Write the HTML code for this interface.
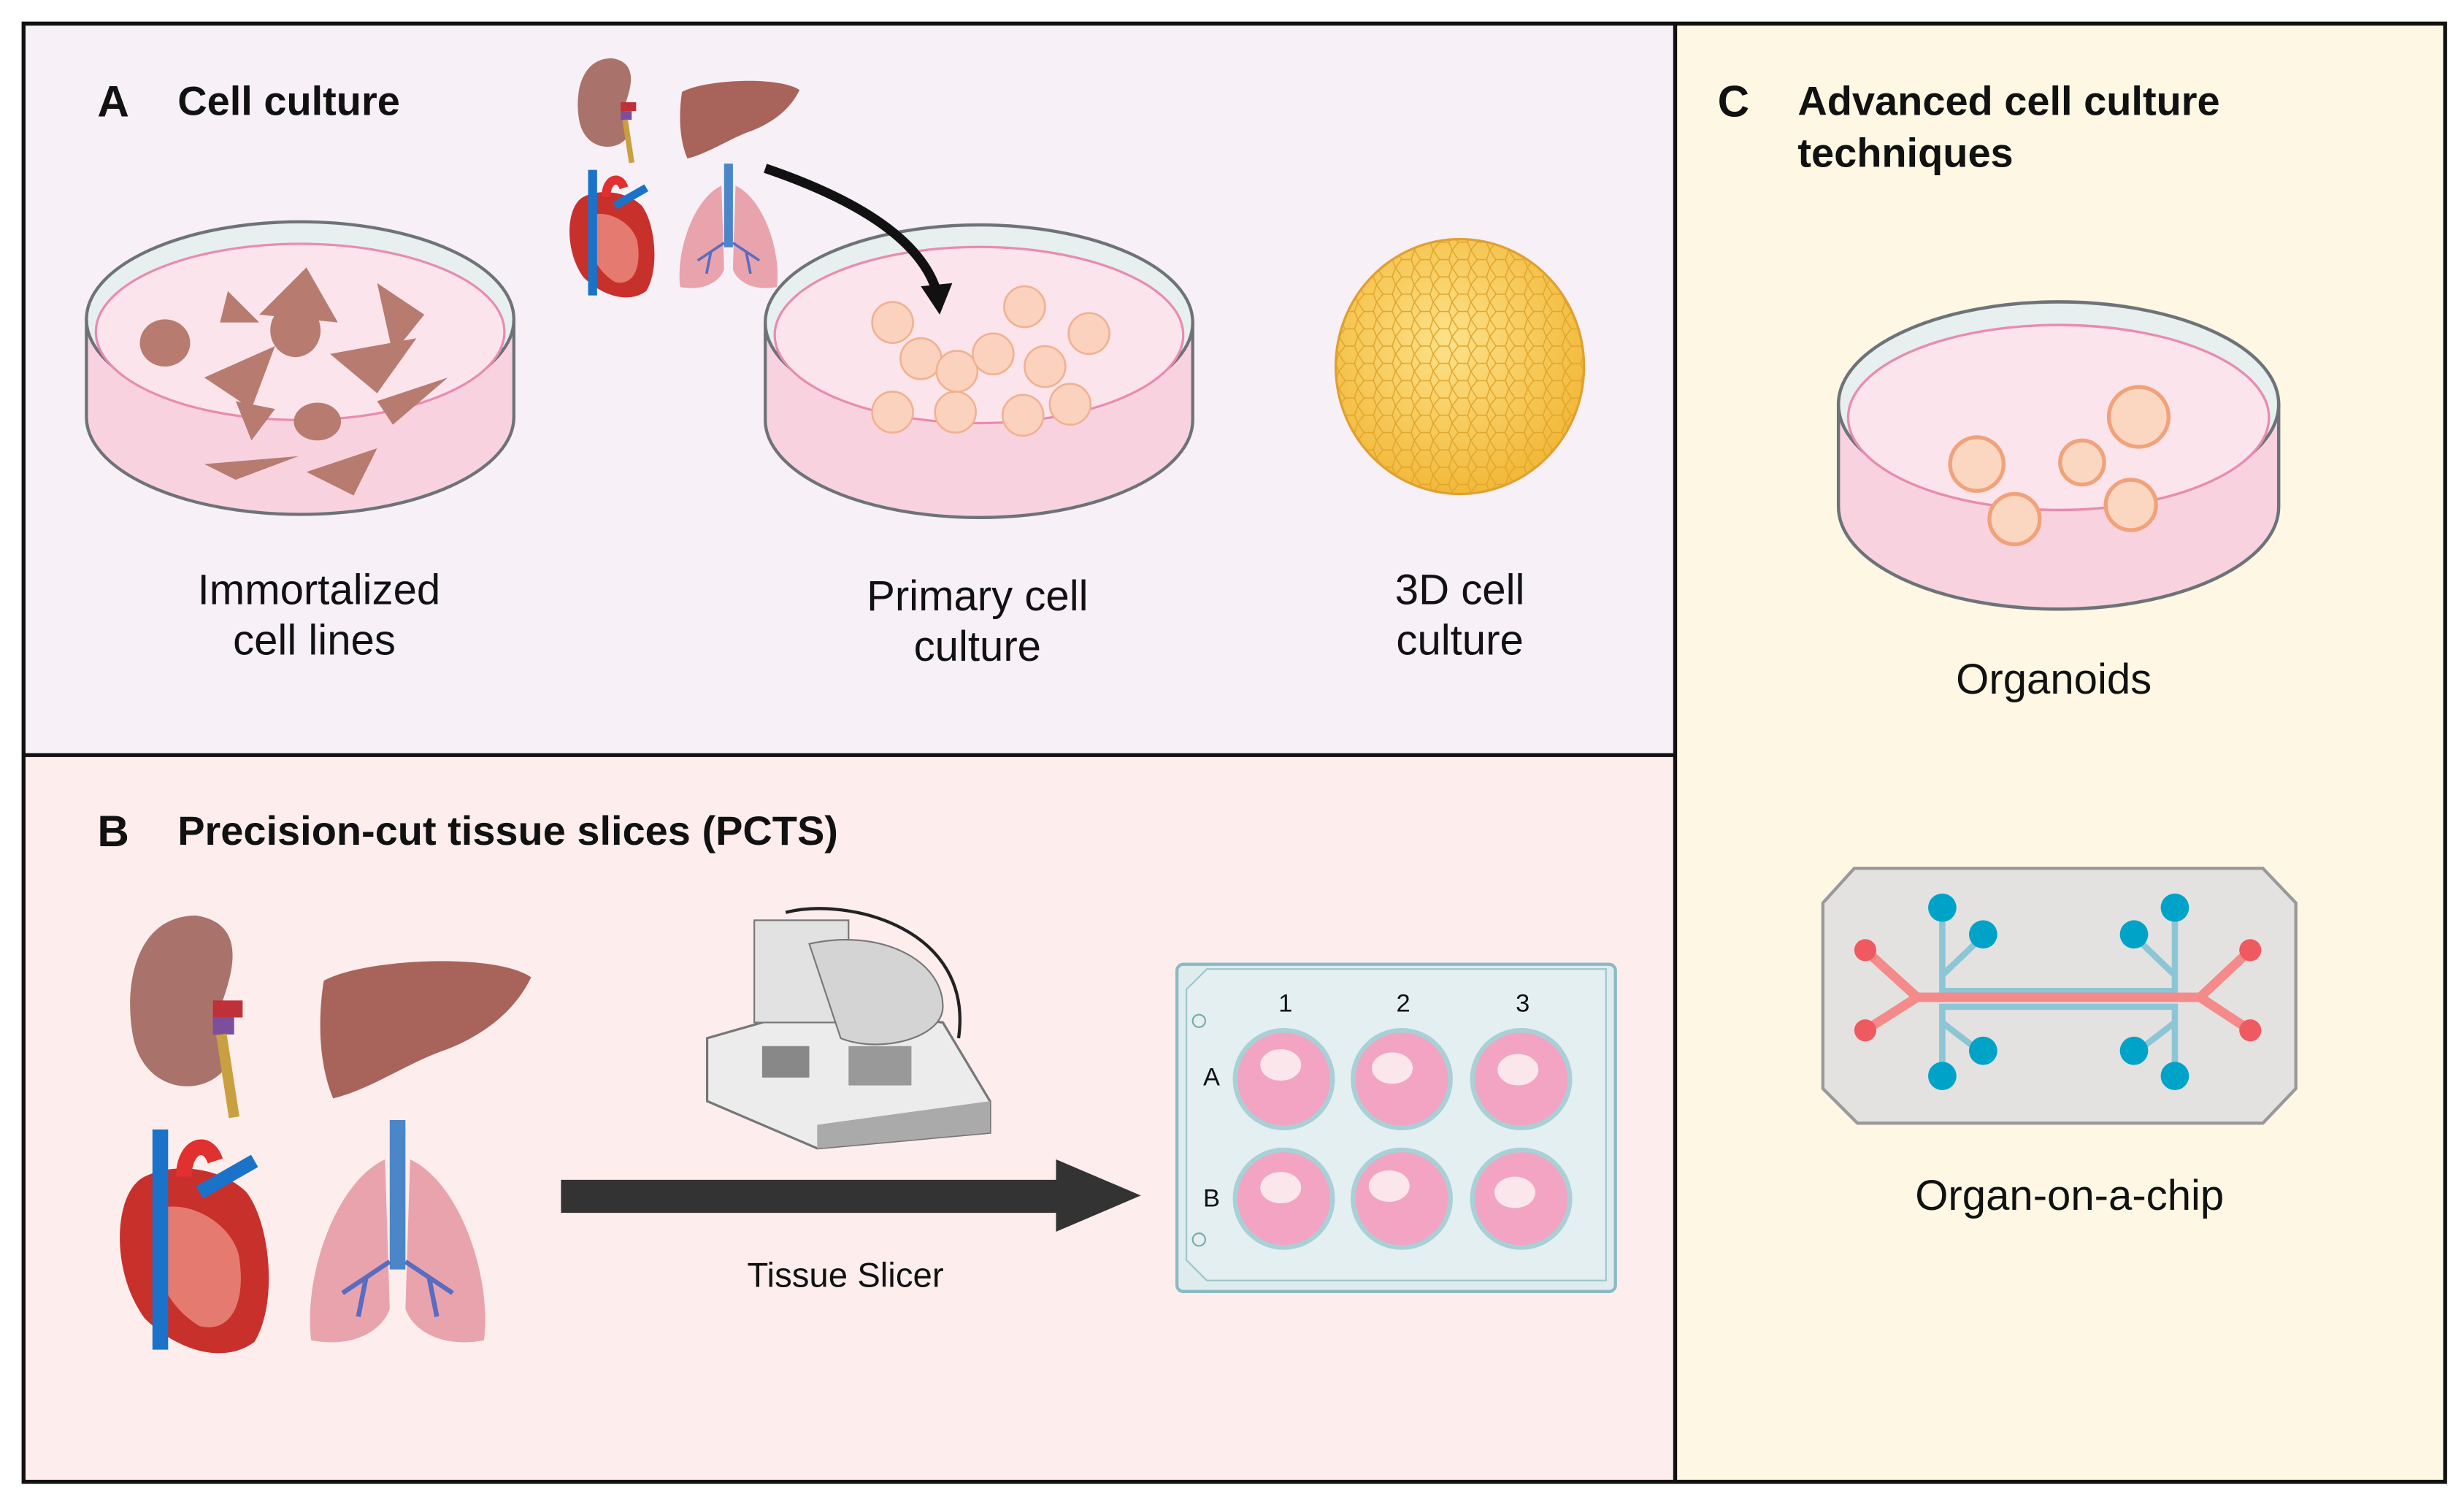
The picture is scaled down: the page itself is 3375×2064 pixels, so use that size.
<!DOCTYPE html>
<html><head><meta charset="utf-8"><style>
html,body{margin:0;padding:0;background:#fff}
svg{display:block}
text{font-family:"Liberation Sans",sans-serif;fill:#111}
.b{font-weight:bold}
</style></head><body>
<svg width="3375" height="2064" viewBox="0 0 1568 958" preserveAspectRatio="none" xmlns="http://www.w3.org/2000/svg">
<defs>
<radialGradient id="sph" cx="0.45" cy="0.4" r="0.6"><stop offset="0" stop-color="#fde28a"/><stop offset="1" stop-color="#f2b93a"/></radialGradient>
<pattern id="cells" width="12" height="11" patternUnits="userSpaceOnUse"><path d="M0 5 L4 0 L10 0 L12 5 L10 11 L4 11 Z" fill="none" stroke="#e0a52c" stroke-width="0.7"/></pattern>
<g id="dish">
<path d="M-136 0 L-136 62 A136 62 0 0 0 136 62 L136 0 Z" fill="#f8d3df" stroke="#6d7378" stroke-width="2"/>
<ellipse cx="0" cy="0" rx="136" ry="62" fill="#e8efef" stroke="#6d7378" stroke-width="2"/>
<ellipse cx="0" cy="8" rx="130" ry="56" fill="#fbe4ec" stroke="#e98bb0" stroke-width="1.5"/>
</g>
<g id="kid"><path d="M22 0 C-5 0 -12 30 -8 55 C-4 82 22 86 34 74 C42 62 30 52 34 42 C38 30 48 4 22 0 Z" fill="#a9726a"/><rect x="30" y="40" width="14" height="8" fill="#c0303a"/><rect x="30" y="48" width="10" height="8" fill="#7b4f9c"/><path d="M34 56 L40 95" stroke="#c9a040" stroke-width="5"/></g>
<g id="liv"><path d="M0 10 C20 -2 90 -6 110 8 C100 30 80 42 65 48 C45 55 25 70 5 75 C-3 55 -3 30 0 10 Z" fill="#a8635a"/></g>
<g id="heart"><path d="M20 30 C0 40 -2 90 20 120 C40 140 70 150 90 135 C105 110 100 60 85 40 C70 25 40 20 20 30 Z" fill="#c8302c"/><path d="M30 50 C20 80 30 110 55 125 C75 130 85 110 80 80 C75 60 50 45 30 50 Z" fill="#e57a70"/><rect x="25" y="0" width="10" height="140" fill="#1a73c8"/><path d="M45 30 C45 10 60 5 65 20" stroke="#e03030" stroke-width="10" fill="none"/><path d="M55 40 L90 20" stroke="#1a73c8" stroke-width="9"/></g>
<g id="lung"><rect x="55" y="0" width="10" height="95" fill="#4a86c8"/><path d="M52 25 C20 40 0 100 5 140 C30 145 50 135 55 120 Z" fill="#e9a3ad"/><path d="M68 25 C100 40 120 100 115 140 C90 145 70 135 65 120 Z" fill="#e9a3ad"/><path d="M55 90 L25 110 M40 100 L35 125 M65 90 L95 110 M80 100 L85 125" stroke="#5a6cc0" stroke-width="3" fill="none"/></g>
</defs>
<rect width="1568" height="958" fill="#fff"/>
<rect x="15" y="15" width="1051" height="465" fill="#f7f0f7"/>
<rect x="15" y="480" width="1051" height="462" fill="#fdeeed"/>
<rect x="1066" y="15" width="490" height="927" fill="#fdf7e3"/>
<rect x="15" y="15" width="1541" height="927" fill="none" stroke="#111" stroke-width="2.5"/>
<line x1="1066" y1="15" x2="1066" y2="942" stroke="#111" stroke-width="2.5"/>
<line x1="15" y1="480" x2="1066" y2="480" stroke="#111" stroke-width="2.5"/>

<text x="62" y="74" font-size="28" class="b">A</text>
<text x="113" y="73" font-size="26" class="b">Cell culture</text>
<text x="62" y="538" font-size="28" class="b">B</text>
<text x="113" y="537" font-size="26" class="b">Precision-cut tissue slices (PCTS)</text>
<text x="1093" y="74" font-size="28" class="b">C</text>
<text x="1144" y="73" font-size="26" class="b">Advanced cell culture</text>
<text x="1144" y="106" font-size="26" class="b">techniques</text>

<!-- Panel A -->
<use href="#dish" x="191" y="203"/>
<g fill="#b77b70">
<ellipse cx="105" cy="218" rx="16" ry="15"/><ellipse cx="188" cy="210" rx="16" ry="17"/><path d="M130 240 L175 220 L160 260 Z"/><path d="M165 200 L195 170 L215 205 Z"/><path d="M210 225 L265 215 L240 250 Z"/><path d="M240 180 L270 200 L250 225 Z"/><path d="M145 185 L165 205 L140 205 Z"/><path d="M150 255 L175 260 L160 280 Z"/><ellipse cx="202" cy="268" rx="15" ry="12"/><path d="M240 255 L285 240 L250 270 Z"/><path d="M130 295 L190 290 L150 305 Z"/><path d="M195 300 L240 285 L225 315 Z"/>
</g>
<use href="#dish" x="623" y="205"/>
<g fill="#fbd2bd" stroke="#f0b190" stroke-width="1.2">
<circle cx="568" cy="205" r="13"/><circle cx="652" cy="195" r="13"/><circle cx="693" cy="212" r="13"/><circle cx="586" cy="228" r="13"/><circle cx="609" cy="236" r="13"/><circle cx="632" cy="225" r="13"/><circle cx="665" cy="233" r="13"/><circle cx="568" cy="262" r="13"/><circle cx="608" cy="262" r="13"/><circle cx="651" cy="264" r="13"/><circle cx="681" cy="257" r="13"/>
</g>
<ellipse cx="929" cy="233" rx="79" ry="81" fill="url(#sph)"/>
<ellipse cx="929" cy="233" rx="79" ry="81" fill="url(#cells)" stroke="#e0a030" stroke-width="1.5"/>
<g transform="translate(374,37) scale(0.7)"><use href="#kid"/></g>
<g transform="translate(434,52) scale(0.68,0.65)"><use href="#liv"/></g>
<g transform="translate(360,108) scale(0.57)"><use href="#heart"/></g>
<g transform="translate(430,104) scale(0.56)"><use href="#lung"/></g>
<path d="M487 107 C540 125 585 150 596 185" stroke="#111" stroke-width="6" fill="none"/>
<path d="M586 182 L598 200 L606 180 Z" fill="#111"/>
<g font-size="27" text-anchor="middle">
<text x="203" y="384">Immortalized</text><text x="200" y="416">cell lines</text>
<text x="622" y="388">Primary cell</text><text x="622" y="420">culture</text>
<text x="929" y="384">3D cell</text><text x="929" y="416">culture</text>
</g>

<!-- Panel B -->
<g transform="translate(95,582) scale(1.35)"><use href="#kid"/></g>
<g transform="translate(206,612) scale(1.2,1.15)"><use href="#liv"/></g>
<g transform="translate(72,718)"><use href="#heart"/></g>
<g transform="translate(193,712)"><use href="#lung"/></g>
<!-- slicer -->
<g>
<path d="M450 660 L520 640 L600 650 L630 700 L630 720 L520 730 L450 700 Z" fill="#ececec" stroke="#777" stroke-width="1.5"/>
<path d="M520 730 L630 720 L630 700 L520 715 Z" fill="#aaa"/>
<rect x="480" y="585" width="60" height="65" fill="#e2e2e2" stroke="#777"/>
<path d="M515 600 C560 590 600 610 600 640 C600 660 560 670 535 660 Z" fill="#d4d4d4" stroke="#777"/>
<path d="M500 580 C540 570 620 590 610 660" stroke="#222" stroke-width="2" fill="none"/>
<rect x="485" y="665" width="30" height="20" fill="#888"/>
<rect x="540" y="665" width="40" height="25" fill="#999"/>
</g>
<rect x="357" y="750" width="316" height="21" fill="#333"/>
<path d="M672 737 L726 760 L672 783 Z" fill="#333"/>
<text x="538" y="818" font-size="22" text-anchor="middle">Tissue Slicer</text>
<rect x="749" y="613" width="279" height="208" rx="4" fill="#dfecee" stroke="#8bbac2" stroke-width="2"/>
<path d="M768 616 L1022 616 L1022 814 L768 814 L755 801 L755 629 Z" fill="#e3eff1" stroke="#9cc6cc" stroke-width="1"/>
<circle cx="763" cy="649" r="4" fill="none" stroke="#7aa"/><circle cx="763" cy="788" r="4" fill="none" stroke="#7aa"/>
<g font-size="16" fill="#2a5a6a" text-anchor="middle"><text x="818" y="643">1</text><text x="893" y="643">2</text><text x="969" y="643">3</text><text x="771" y="690">A</text><text x="771" y="767">B</text></g>
<g stroke="#a8d0d6" stroke-width="3" fill="#f3a4c3">
<circle cx="817" cy="686" r="31"/><circle cx="892" cy="686" r="31"/><circle cx="968" cy="686" r="31"/>
<circle cx="817" cy="762" r="31"/><circle cx="892" cy="762" r="31"/><circle cx="968" cy="762" r="31"/>
</g>
<g fill="#fbe6ec"><ellipse cx="815" cy="677" rx="13" ry="10"/><ellipse cx="886" cy="679" rx="13" ry="10"/><ellipse cx="966" cy="680" rx="13" ry="10"/><ellipse cx="815" cy="755" rx="13" ry="10"/><ellipse cx="884" cy="754" rx="13" ry="10"/><ellipse cx="964" cy="758" rx="13" ry="10"/></g>

<!-- Panel C -->
<g transform="translate(1310,257) scale(1.03,1.05)"><use href="#dish"/></g>
<g fill="#fbd7c2" stroke="#f1a27a" stroke-width="2.5">
<circle cx="1258" cy="295" r="17"/><circle cx="1282" cy="330" r="16"/><circle cx="1325" cy="294" r="14"/><circle cx="1361" cy="265" r="19"/><circle cx="1356" cy="321" r="16"/>
</g>
<path d="M1180 552 L1440 552 L1461 574 L1461 692 L1440 714 L1182 714 L1160 692 L1160 574 Z" fill="#e4e2e0" stroke="#999" stroke-width="2"/>
<g stroke="#8cc6d6" stroke-width="4" fill="none">
<path d="M1236 578 L1236 630 L1384 630 L1384 578 M1236 620 L1262 595 M1384 620 L1358 595"/>
<path d="M1236 688 L1236 640 L1384 640 L1384 688 M1236 650 L1262 670 M1384 650 L1358 670"/>
</g>
<g stroke="#f58a8a" stroke-width="6" fill="none"><path d="M1187 604 L1220 634 L1400 634 L1432 604 M1187 655 L1220 634 M1400 634 L1432 655"/></g>
<g fill="#00a3c8"><circle cx="1236" cy="577" r="9"/><circle cx="1262" cy="594" r="9"/><circle cx="1384" cy="577" r="9"/><circle cx="1358" cy="594" r="9"/><circle cx="1236" cy="684" r="9"/><circle cx="1262" cy="668" r="9"/><circle cx="1384" cy="684" r="9"/><circle cx="1358" cy="668" r="9"/></g>
<g fill="#ef5a60"><circle cx="1187" cy="604" r="7"/><circle cx="1187" cy="655" r="7"/><circle cx="1432" cy="604" r="7"/><circle cx="1432" cy="655" r="7"/></g>
<g font-size="27" text-anchor="middle"><text x="1307" y="441">Organoids</text><text x="1317" y="769">Organ-on-a-chip</text></g>
</svg>
</body></html>
